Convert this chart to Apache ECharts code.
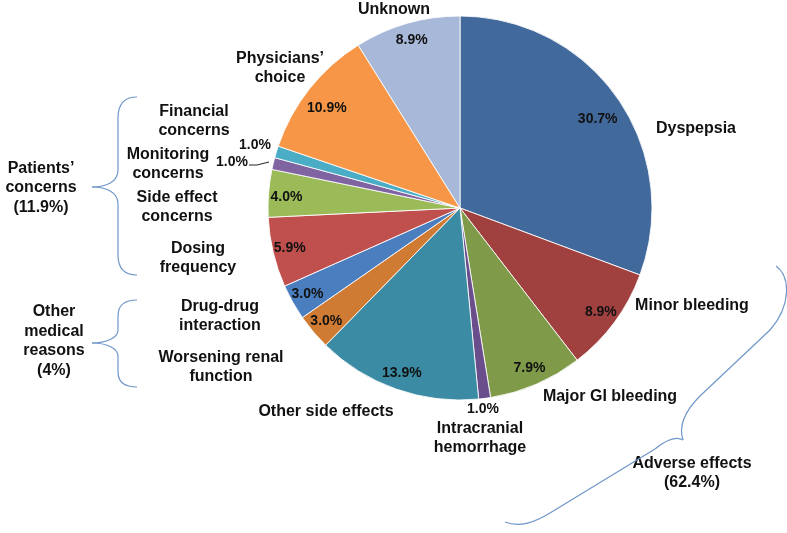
<!DOCTYPE html>
<html>
<head>
<meta charset="utf-8">
<script src="https://cdn.jsdelivr.net/npm/echarts@6/dist/echarts.min.js"></script>
<style>
html,body{margin:0;padding:0;background:#fff;}
#chart{width:787px;height:533px;}
</style>
</head>
<body>
<div id="chart"></div>
<script>
// ---- Data ----
var categories = ["Dyspepsia", "Minor bleeding", "Major GI bleeding", "Intracranial\nhemorrhage",
  "Other side effects", "Worsening renal\nfunction", "Drug-drug\ninteraction", "Dosing\nfrequency",
  "Side effect\nconcerns", "Monitoring\nconcerns", "Financial\nconcerns", "Physicians\u2019\nchoice", "Unknown"];
var values = [30.7, 8.9, 7.9, 1.0, 13.9, 3.0, 3.0, 5.9, 4.0, 1.0, 1.0, 10.9, 8.9];
var groupNames = ["Patients\u2019\nconcerns\n(11.9%)", "Other\nmedical\nreasons\n(4%)", "Adverse effects\n(62.4%)"];

// ---- Styles / layout ----
var colors = ['#42699C', '#A0413F', '#7F9A48', '#6A4E8C', '#3A8BA3', '#D07B33', '#4A7EBF',
  '#C0504D', '#9BBB59', '#8064A2', '#4BACC6', '#F79646', '#A7B8D8'];
var FONT = '"Liberation Sans", Arial, sans-serif';
var CX = 460, CY = 208, R = 192;
var namePos = [[696,129],[692,306],[610,397],[480,438],[326,412],[221,367],[220,316],[198,258],
  [177,207],[168,164],[194,121],[280,68],[394,10]];
var outsidePct = {3: [483,409], 9: [232,162], 10: [255,145]};
var pctNudge = {0: [-6, 11], 11: [4, 9], 8: [1, 3]};
var groupPos = [[41,188],[54,341],[692,473]];

var braces = [
  [[137,97], ['C',124,97,118,104,118,118], ['L',118,170], ['C',118,182,106,187,92,187],
   ['C',106,187,118,192,118,204], ['L',118,255], ['C',118,268,124,275,137,275]],
  [[137,300], ['C',124,300,118,306,118,316], ['L',118,330], ['C',118,338,106,343,92,343],
   ['C',106,343,118,348,118,356], ['L',118,372], ['C',118,382,124,387,137,387]],
  [[776,266], ['C',790,276,792,305,770,330], ['L',700,396], ['C',686,410,678,425,683,440],
   ['C',676,436,666,440,655,449], ['L',550,513], ['C',535,522,520,528,505,522]]
];

var chart = echarts.init(document.getElementById('chart'));

var mainData = categories.map(function (c, i) {
  return {name: c, value: values[i], itemStyle: {color: colors[i]}};
});
var labelData = categories.map(function (c, i) {
  return {name: c, value: values[i], label: {show: !(i in outsidePct)}};
});

var graphics = [];
categories.forEach(function (c, i) {
  graphics.push({type: 'text', x: namePos[i][0], y: namePos[i][1], silent: true,
    style: {text: c, font: 'bold 16px ' + FONT, fill: '#111', align: 'center', verticalAlign: 'middle', lineHeight: 19}});
});
Object.keys(outsidePct).forEach(function (k) {
  var p = outsidePct[k];
  graphics.push({type: 'text', x: p[0], y: p[1], silent: true,
    style: {text: values[k].toFixed(1) + '%', font: 'bold 14px ' + FONT, fill: '#111', align: 'center', verticalAlign: 'middle'}});
});
groupNames.forEach(function (g, i) {
  graphics.push({type: 'text', x: groupPos[i][0], y: groupPos[i][1], silent: true,
    style: {text: g, font: 'bold 16px ' + FONT, fill: '#111', align: 'center', verticalAlign: 'middle', lineHeight: 19.5}});
});
graphics.push({type: 'polyline', silent: true, shape: {points: [[249,165],[257,165],[269,162]]},
  style: {stroke: '#222', lineWidth: 1, fill: null}});

var braceStyle = {stroke: '#6F97C9', lineWidth: 1.2, fill: null};
braces.forEach(function (b) {
  var cur = b[0];
  for (var j = 1; j < b.length; j++) {
    var s = b[j];
    if (s[0] === 'L') {
      graphics.push({type: 'line', silent: true, shape: {x1: cur[0], y1: cur[1], x2: s[1], y2: s[2]}, style: braceStyle});
      cur = [s[1], s[2]];
    } else {
      graphics.push({type: 'bezierCurve', silent: true, shape: {x1: cur[0], y1: cur[1], cpx1: s[1], cpy1: s[2],
        cpx2: s[3], cpy2: s[4], x2: s[5], y2: s[6]}, style: braceStyle});
      cur = [s[5], s[6]];
    }
  }
});

chart.setOption({
  backgroundColor: '#fff',
  animation: false,
  graphic: graphics,
  series: [
    {
      type: 'pie', center: [CX, CY], radius: [0, R], startAngle: 90, clockwise: true,
      silent: true, label: {show: false}, labelLine: {show: false},
      itemStyle: {borderColor: 'rgba(255,255,255,0.85)', borderWidth: 1},
      data: mainData
    },
    {
      type: 'pie', center: [CX, CY], radius: [R - 40, R], startAngle: 90, clockwise: true,
      silent: true, z: 5,
      itemStyle: {color: 'rgba(0,0,0,0)', borderWidth: 0},
      label: {show: true, position: 'inside', color: '#111',
        fontWeight: 'bold', fontSize: 14, fontFamily: FONT,
        formatter: function (p) { return p.value.toFixed(1) + '%'; }},
      labelLine: {show: false},
      labelLayout: function (params) {
        var n = pctNudge[params.dataIndex];
        return n ? {dx: n[0], dy: n[1]} : {};
      },
      data: labelData
    }
  ]
});
</script>
</body>
</html>
